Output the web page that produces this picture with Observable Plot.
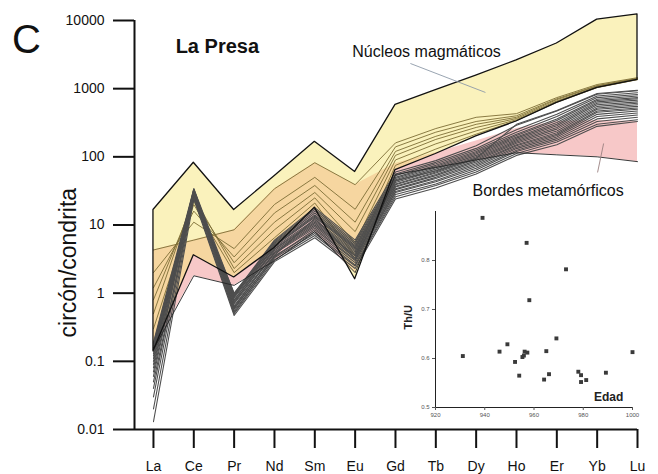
<!DOCTYPE html>
<html>
<head>
<meta charset="utf-8">
<script src="https://cdn.jsdelivr.net/npm/d3@7"></script>
<script src="https://cdn.jsdelivr.net/npm/@observablehq/plot@0.6"></script>
<style>
  body { margin: 0; background: white; }
  #wrap { position: relative; width: 658px; height: 474px; font-family: "Liberation Sans", Arial, sans-serif; }
  #main { position: absolute; left: 0; top: 0; }
  #inset { position: absolute; left: 395px; top: 195px; }
  #letter { position: absolute; left: 12px; top: 19px; font-size: 40px; line-height: 40px; color: #111; }
</style>
</head>
<body>
<div id="wrap">
  <div id="main"></div>
  <div id="inset"></div>
  <div id="letter">C</div>
</div>
<script>
// ---- Data ----
const REE = ["La","Ce","Pr","Nd","Sm","Eu","Gd","Tb","Dy","Ho","Er","Yb","Lu"];
const yTicks = [0.01, 0.1, 1, 10, 100, 1000, 10000];

// Magmatic cores field (yellow)
const coresUpper = [16.6, 82, 16.6, 52, 166, 60, 580, 950, 1550, 2600, 4600, 10300, 12300];
const coresLower = [0.14, 3.6, 1.7, 4.6, 18, 1.6, 64, 110, 200, 330, 620, 1030, 1350];

// Metamorphic rims field (pink)
const rimsUpper = [4.3, 6, 8.5, 34, 82, 39, 80, 115, 170, 260, 330, 340, 330];
const rimsLower = [0.15, 1.8, 1.3, 3, 8, 2, 55, 70, 90, 115, 107, 100, 85];

// Individual core patterns (olive lines)
const cores = [
  [4.3, 6, 8.5, 34, 82, 39, 160, 260, 380, 430, 740, 1150, 1450],
  [2.0, 11, 4.5, 20, 50, 17, 140, 230, 330, 400, 710, 1110, 1420],
  [1.2, 16, 3.4, 15, 38, 11, 120, 200, 300, 380, 690, 1090, 1400],
  [0.8, 22, 2.8, 11, 30, 8, 105, 180, 270, 365, 660, 1060, 1380],
  [0.5, 26, 2.3, 8.5, 25, 5.5, 90, 155, 240, 350, 640, 1045, 1365],
  [0.3, 20, 2.0, 6.5, 21, 3.5, 75, 130, 215, 340, 630, 1035, 1355]
];

// Individual rim patterns (grey lines)
const rims = [
  [0.013, 24, 0.47, 2.9, 6.5, 2.3, 24, 35, 56, 105, 150, 280, 330],
  [0.02, 26, 0.5, 3.1, 7, 2.5, 26, 38, 60, 112, 165, 300, 350],
  [0.03, 28, 0.55, 3.3, 7.5, 2.6, 28, 40, 64, 120, 175, 330, 380],
  [0.04, 30, 0.6, 3.5, 8, 2.8, 30, 43, 68, 125, 185, 360, 410],
  [0.05, 25, 0.52, 3.4, 8.5, 3.0, 31, 45, 72, 132, 195, 390, 440],
  [0.06, 32, 0.65, 3.8, 9, 3.1, 33, 48, 76, 138, 205, 420, 470],
  [0.07, 29, 0.7, 3.9, 9.5, 3.3, 34, 50, 80, 145, 215, 450, 500],
  [0.08, 33, 0.62, 4.0, 10, 3.5, 36, 53, 84, 150, 225, 470, 520],
  [0.09, 27, 0.75, 4.2, 10.5, 3.6, 37, 55, 88, 158, 240, 500, 550],
  [0.1, 31, 0.8, 4.4, 11, 3.8, 39, 58, 92, 165, 255, 520, 580],
  [0.11, 34, 0.72, 4.5, 11.5, 4.0, 40, 60, 96, 172, 270, 550, 610],
  [0.12, 30, 0.85, 4.7, 12, 4.2, 42, 63, 100, 180, 285, 580, 640],
  [0.13, 28, 0.9, 4.9, 13, 4.4, 44, 66, 105, 188, 300, 610, 680],
  [0.14, 32, 0.78, 5.0, 13.5, 4.6, 46, 69, 110, 196, 320, 640, 710],
  [0.15, 26, 0.95, 5.2, 14, 4.8, 48, 72, 115, 205, 340, 670, 740],
  [0.16, 33, 0.88, 5.4, 15, 5.0, 50, 75, 120, 215, 360, 700, 780],
  [0.17, 29, 1.0, 5.6, 16, 5.3, 53, 79, 126, 230, 390, 740, 820],
  [0.18, 31, 0.92, 5.8, 17, 5.6, 56, 83, 133, 250, 420, 780, 870],
  [0.19, 34, 0.98, 6.0, 18, 6.0, 60, 88, 145, 290, 470, 830, 930],
  [0.15, 30, 0.58, 3.6, 12.5, 3.2, 45, 62, 95, 300, 480, 850, 950]
];

// Inset: age (Ma) vs Th/U
const ages = [931.1, 939.1, 946.0, 949.2, 952.3, 954.0, 955.3, 955.9, 956.2, 957.3, 957.0, 958.1, 964.1, 965.0, 966.1, 969.1, 973.0, 978.0, 979.1, 979.1, 981.2, 989.2, 1000];
const thu  = [0.605, 0.887, 0.614, 0.629, 0.593, 0.565, 0.603, 0.606, 0.614, 0.612, 0.836, 0.719, 0.557, 0.615, 0.568, 0.641, 0.782, 0.573, 0.566, 0.552, 0.556, 0.571, 0.613];
const insetXTicks = [920, 940, 960, 980, 1000];
const insetYTicks = [0.5, 0.6, 0.7, 0.8];

// ---- Build tables ----
const xMin = -0.47;
const idx = REE.map((d, i) => i);
const coresField = REE.map((el, i) => ({i, lo: coresLower[i], hi: coresUpper[i]}));
const rimsField = REE.map((el, i) => ({i, lo: rimsLower[i], hi: rimsUpper[i]}));
const coreLines = cores.flatMap((vals, k) => vals.map((v, i) => ({k, i, v})));
const rimLines = rims.flatMap((vals, k) => vals.map((v, i) => ({k, i, v})));
const pts = ages.map((a, j) => ({age: a, thu: thu[j]}));

const font = "'Liberation Sans', Arial, sans-serif";

const main = Plot.plot({
  width: 658, height: 474,
  marginLeft: 134, marginRight: 21, marginTop: 20, marginBottom: 45,
  style: {fontFamily: font, background: "white", color: "#111", overflow: "visible"},
  x: {domain: [xMin, 12]},
  y: {type: "log", domain: [0.01, 10000]},
  marks: [
    Plot.areaY(rimsField, {x: "i", y1: "lo", y2: "hi", fill: "#f7c8c8"}),
    Plot.areaY(coresField, {x: "i", y1: "lo", y2: "hi", fill: "rgb(245,228,118)", fillOpacity: 0.49}),
    Plot.lineY(coreLines, {x: "i", y: "v", z: "k", stroke: "#7d6d36", strokeWidth: 0.9}),
    Plot.lineY(rimLines, {x: "i", y: "v", z: "k", stroke: "#4e4e4e", strokeWidth: 1.1}),
    Plot.lineY(rimsField, {x: "i", y: "lo", stroke: "#222", strokeWidth: 0.9}),
    Plot.areaY(coresField, {x: "i", y1: "lo", y2: "hi", fill: "none", stroke: "#111", strokeWidth: 1.3}),
    Plot.ruleY([0.01], {strokeWidth: 2, stroke: "#111"}),
    Plot.ruleX([xMin], {strokeWidth: 2, stroke: "#111"}),
    Plot.axisY({ticks: yTicks, tickFormat: d => String(d), tickSize: 21, tickPadding: 9, fontSize: 14, strokeWidth: 2, label: null}),
    Plot.axisX({ticks: idx, tickFormat: i => REE[i], tickSize: 19, tickPadding: 13, fontSize: 14, strokeWidth: 2, label: null}),
    Plot.text([{x: xMin, y: 2.8, t: "circón/condrita"}], {x: "x", y: "y", text: "t", rotate: -90, dx: -66, fontSize: 23, fill: "#111"}),
    Plot.text([{x: 0.55, y: 4150, t: "La Presa"}], {x: "x", y: "y", text: "t", textAnchor: "start", fontSize: 20, fontWeight: "bold", fill: "#111"}),
    Plot.text([{x: 4.93, y: 3510, t: "Núcleos magmáticos"}], {x: "x", y: "y", text: "t", textAnchor: "start", fontSize: 16, fill: "#111"}),
    Plot.text([{x: 7.91, y: 32, t: "Bordes metamórficos"}], {x: "x", y: "y", text: "t", textAnchor: "start", fontSize: 16, fill: "#111"}),
    Plot.link([{x1: 6.37, y1: 2340, x2: 8.23, y2: 880}], {x1: "x1", y1: "y1", x2: "x2", y2: "y2", stroke: "#8d9aa8", strokeWidth: 0.9}),
    Plot.link([{x1: 11.01, y1: 59, x2: 11.16, y2: 157}], {x1: "x1", y1: "y1", x2: "x2", y2: "y2", stroke: "#9a8080", strokeWidth: 0.9})
  ]
});
document.getElementById("main").appendChild(main);

const inset = Plot.plot({
  width: 250, height: 232,
  marginLeft: 40, marginRight: 13, marginTop: 16, marginBottom: 20,
  style: {fontFamily: font, background: "none", overflow: "visible"},
  x: {domain: [920, 1000]},
  y: {domain: [0.5, 0.9]},
  marks: [
    Plot.ruleX([920], {stroke: "#222", strokeWidth: 1}),
    Plot.ruleY([0.5], {stroke: "#222", strokeWidth: 1}),
    Plot.axisX({ticks: insetXTicks, tickFormat: d => String(d), tickSize: 3, tickPadding: 2, fontSize: 6, color: "#555", label: null}),
    Plot.axisY({ticks: insetYTicks, tickFormat: d => String(d), tickSize: 3, tickPadding: 3, fontSize: 6, color: "#555", label: null}),
    Plot.dot(pts, {x: "age", y: "thu", symbol: "square", r: 2.2, fill: "#3a3a3a"}),
    Plot.text([{x: 920, y: 0.684, t: "Th/U"}], {x: "x", y: "y", text: "t", rotate: -90, dx: -27, fontSize: 11, fontWeight: "bold", fill: "#222"}),
    Plot.text([{x: 990.3, y: 0.522, t: "Edad"}], {x: "x", y: "y", text: "t", fontSize: 12, fontWeight: "bold", fill: "#222"})
  ]
});
document.getElementById("inset").appendChild(inset);
</script>
</body>
</html>
